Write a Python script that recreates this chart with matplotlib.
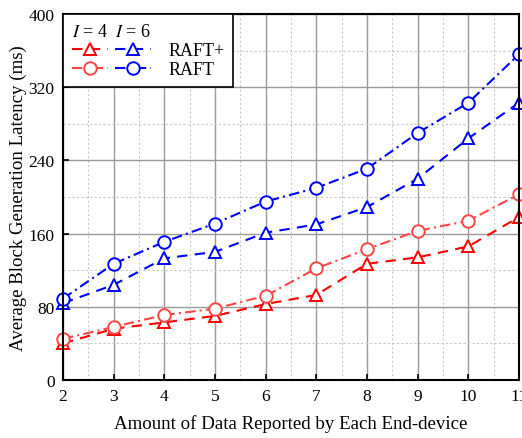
import matplotlib.pyplot as plt
from matplotlib.ticker import MultipleLocator

plt.rcParams['font.family'] = ['Liberation Serif', 'DejaVu Serif']
plt.rcParams['mathtext.fontset'] = 'stix'

# data
x_vals = [2, 3, 4, 5, 6, 7, 8, 9, 10, 11]
raft_plus_i4 = [40, 56, 63, 70, 83, 93, 127, 134, 146, 178]
raft_i4 = [45, 58, 71, 78, 92, 122, 143, 163, 174, 203]
raft_plus_i6 = [84, 104, 133, 140, 161, 170, 189, 220, 264, 303]
raft_i6 = [89, 127, 151, 171, 195, 210, 231, 270, 303, 356]

fig = plt.figure(figsize=(5.22, 4.39), dpi=100)
ax = fig.add_axes([63 / 522, 1 - 381 / 439, 456 / 522, 366 / 439])

mk = dict(markersize=9, markerfacecolor='white', markeredgewidth=1.4, linewidth=1.5)
l1, = ax.plot(x_vals, raft_plus_i4, color='#ff0000', marker='^', linestyle=(0, (5, 3.5)), **mk)
l2, = ax.plot(x_vals, raft_i4, color='#ff4545', marker='o', linestyle=(0, (5, 2, 1, 2)), **mk)
l3, = ax.plot(x_vals, raft_plus_i6, color='#0000ff', marker='^', linestyle=(0, (5, 3.5)), **mk)
l4, = ax.plot(x_vals, raft_i6, color='#0000ff', marker='o', linestyle=(0, (5, 2, 1, 2)), **mk)
for ln in (l1, l2, l3, l4):
    ln.set_clip_on(False)

ax.set_xlim(2, 11)
ax.set_ylim(0, 400)
ax.xaxis.set_major_locator(MultipleLocator(1))
ax.xaxis.set_minor_locator(MultipleLocator(0.5))
ax.yaxis.set_major_locator(MultipleLocator(80))
ax.yaxis.set_minor_locator(MultipleLocator(40))

ax.grid(which='major', color='#999999', linestyle='-', linewidth=1.0)
ax.grid(which='minor', color='#c8c8c8', linestyle=(0, (2, 2)), linewidth=0.8)
ax.set_axisbelow(True)

ax.tick_params(which='major', direction='in', length=4, width=1.2, labelsize=12.5,
               top=False, right=False, pad=6)
ax.tick_params(which='minor', length=0)
for s in ax.spines.values():
    s.set_linewidth(1.5)
    s.set_color('black')

ax.set_xlabel('Amount of Data Reported by Each End-device', fontsize=13.6, labelpad=7)
ax.set_ylabel('Average Block Generation Latency (ms)', fontsize=13.6, labelpad=1)

# two marker columns (I=4 red, I=6 blue), labels only on the second
leg = ax.legend([l1, l2, l3, l4], ['', '', 'RAFT+', 'RAFT'], ncol=2,
                loc='upper left', borderaxespad=0, fontsize=13,
                title='$I$ = 4  $I$ = 6', title_fontsize=13, alignment='left',
                handlelength=2.0, columnspacing=-0.55, handletextpad=0.94,
                borderpad=0.5, fancybox=False, edgecolor='black', framealpha=1,
                labelspacing=0.12)
leg.get_frame().set_linewidth(1.2)

fig.savefig('out.png', dpi=100)
